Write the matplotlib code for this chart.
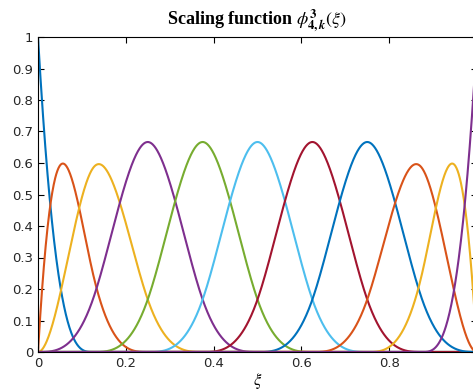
import numpy as np
import matplotlib
matplotlib.use("Agg")
from matplotlib import pyplot as plt

# cubic B-spline scaling functions, level 4 (uniform knots on [0,1])
degree = 3
inner_knots = [0.0, 0.125, 0.25, 0.375, 0.5, 0.625, 0.75, 0.875, 1.0]
knots = [inner_knots[0]] * degree + inner_knots + [inner_knots[-1]] * degree

# MATLAB default line colours
colors = ["#0072BD", "#D95319", "#EDB120", "#7E2F8E", "#77AC30",
          "#4DBEEE", "#A2142F"]

xi = np.linspace(0, 1, 1201)


def bspline_basis(i, p, t, x):
    if p == 0:
        if t[i + 1] == t[-1]:
            return ((x >= t[i]) & (x <= t[i + 1])).astype(float) * (t[i] < t[i + 1])
        return ((x >= t[i]) & (x < t[i + 1])).astype(float)
    left = 0.0
    right = 0.0
    if t[i + p] != t[i]:
        left = (x - t[i]) / (t[i + p] - t[i]) * bspline_basis(i, p - 1, t, x)
    if t[i + p + 1] != t[i + 1]:
        right = (t[i + p + 1] - x) / (t[i + p + 1] - t[i + 1]) * bspline_basis(i + 1, p - 1, t, x)
    return left + right


plt.rcParams["mathtext.fontset"] = "stix"
fig = plt.figure(figsize=(4.73, 3.92), dpi=100)
# the right edge of the axes sits just past the picture edge, as in the original
ax = fig.add_axes([38 / 473, 40 / 392, 439 / 473, 315 / 392])

n_funcs = len(knots) - degree - 1
for k in range(n_funcs):
    ax.plot(xi, bspline_basis(k, degree, knots, xi), color=colors[k % len(colors)], lw=1.5)

ax.set_xlim(0, 1)
ax.set_ylim(0, 1)
ax.set_xticks([0, 0.2, 0.4, 0.6, 0.8, 1])
ax.set_xticklabels(["0", "0.2", "0.4", "0.6", "0.8", ""])
ax.set_yticks(np.arange(0, 1.01, 0.1))
ax.set_yticklabels(["0", "0.1", "0.2", "0.3", "0.4", "0.5", "0.6", "0.7", "0.8", "0.9", "1"])
ax.tick_params(direction="in", length=4, width=0.8, labelsize=9.5, top=True, right=True,
               colors="black", labelcolor="#262626")
for s in ax.spines.values():
    s.set_linewidth(0.8)

ax.set_title(r"Scaling function $\phi^{\mathbf{3}}_{\mathbf{4,}\boldsymbol{k}}(\xi)$",
             family="Liberation Serif", fontweight="bold", fontsize=13, pad=9)
ax.set_xlabel(r"$\xi$", fontsize=12, labelpad=1)

fig.savefig("out.png", dpi=100)
